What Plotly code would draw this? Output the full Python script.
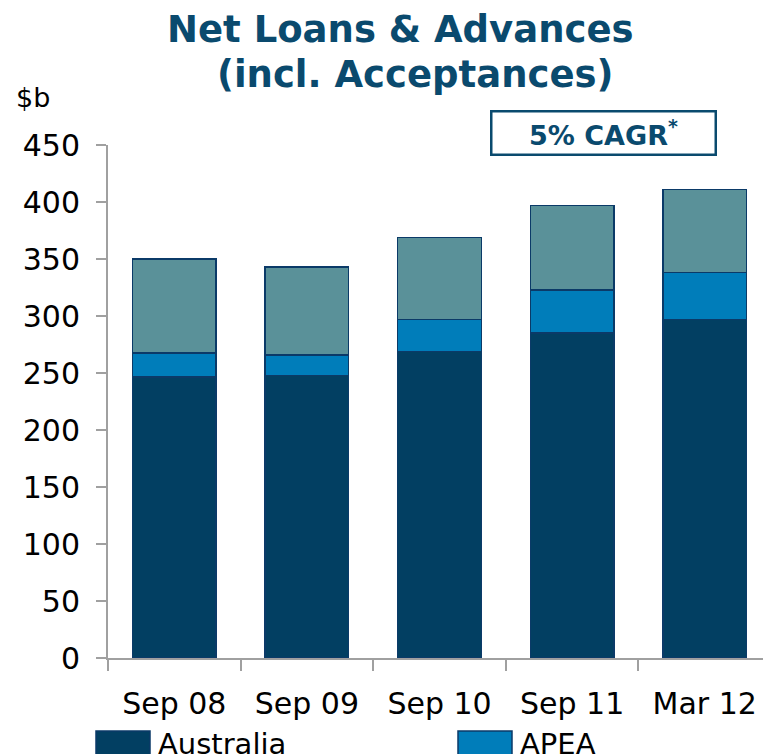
"""Net Loans & Advances stacked bar chart."""

import plotly.graph_objects as go

PERIODS = ['Sep 08', 'Sep 09', 'Sep 10', 'Sep 11', 'Mar 12']
AUSTRALIA = [246.5, 248, 269, 285, 297]
APEA = [21, 18, 28, 38, 41]
NEW_ZEALAND = [82.5, 77, 72, 74, 73]

SERIES = [
    ('Australia', AUSTRALIA, '#023F62'),
    ('APEA', APEA, '#007DBA'),
    ('New Zealand', NEW_ZEALAND, '#5A9199'),
]
OUTLINE = '#0B3A68'
NAVY = '#0A4A6E'
FONT = 'DejaVu Sans, Verdana, sans-serif'

# page body adds 8px, so layout is worked out in screen pixels minus that offset
OFF = 8
W, H = 771, 754
L, T = 108 - OFF, 145 - OFF
R, B = OFF, H - (658 - OFF)

fig = go.Figure()
for name, values, color in SERIES:
    fig.add_trace(go.Bar(
        x=PERIODS, y=values, name=name,
        marker=dict(color=color, line=dict(color=OUTLINE, width=1.5)),
        showlegend=False,
    ))


def px_x(px):
    return (px - OFF - L) / (W - L - R)


def px_y(px):
    return (H - B - (px - OFF)) / (H - T - B)


# hand-drawn legend (Excel-style wide swatches)
legend_items = [('Australia', 96), ('APEA', 458), ('New Zealand', 768)]
shapes = []
annotations = []
for (name, _, color), (label, x0) in zip(SERIES, legend_items):
    shapes.append(dict(
        type='rect', xref='paper', yref='paper',
        x0=px_x(x0), x1=px_x(x0 + 54), y0=px_y(731), y1=px_y(770),
        fillcolor=color, line=dict(color=OUTLINE, width=1.5),
    ))
    annotations.append(dict(
        xref='paper', yref='paper', x=px_x(x0 + 60), y=px_y(744),
        text=label, showarrow=False, xanchor='left', yanchor='middle',
        font=dict(family=FONT, size=29, color='black'),
    ))

annotations += [
    dict(xref='paper', yref='paper', x=px_x(400), y=px_y(29),
         text='<b>Net Loans & Advances</b>', showarrow=False,
         xanchor='center', yanchor='middle',
         font=dict(family=FONT, size=37, color=NAVY)),
    dict(xref='paper', yref='paper', x=px_x(415), y=px_y(74),
         text='<b>(incl. Acceptances)</b>', showarrow=False,
         xanchor='center', yanchor='middle',
         font=dict(family=FONT, size=37, color=NAVY)),
    dict(xref='paper', yref='paper', x=px_x(14), y=px_y(97),
         text='$b', showarrow=False, xanchor='left', yanchor='middle',
         font=dict(family=FONT, size=27, color='black')),
    dict(xref='paper', yref='paper', x=px_x(603), y=px_y(133),
         text='<b>5% CAGR<sup>*</sup></b>', showarrow=False,
         xanchor='center', yanchor='middle', width=220, height=39,
         bordercolor=NAVY, borderwidth=2.5, borderpad=1, bgcolor='white',
         font=dict(family=FONT, size=27, color=NAVY)),
]

fig.update_layout(
    width=W, height=H,
    margin=dict(l=L, r=R, t=T, b=B),
    plot_bgcolor='white', paper_bgcolor='white',
    barmode='stack', bargap=0.37,
    shapes=shapes,
    annotations=annotations,
)
fig.update_xaxes(
    showline=True, linecolor='#A0A0A0', linewidth=2,
    ticks='outside', tickson='boundaries', ticklen=11, tickcolor='#A0A0A0', tickwidth=2,
    tickfont=dict(family=FONT, size=30, color='black'),
    ticklabelstandoff=18,
    showgrid=False,
)
fig.update_yaxes(
    range=[0, 450], dtick=50,
    showline=True, linecolor='#A0A0A0', linewidth=2,
    ticks='outside', ticklen=10, tickcolor='#A0A0A0', tickwidth=2,
    tickfont=dict(family=FONT, size=30, color='black'),
    ticklabelstandoff=10,
    showgrid=False, zeroline=False,
)

fig.write_html('out.html')
